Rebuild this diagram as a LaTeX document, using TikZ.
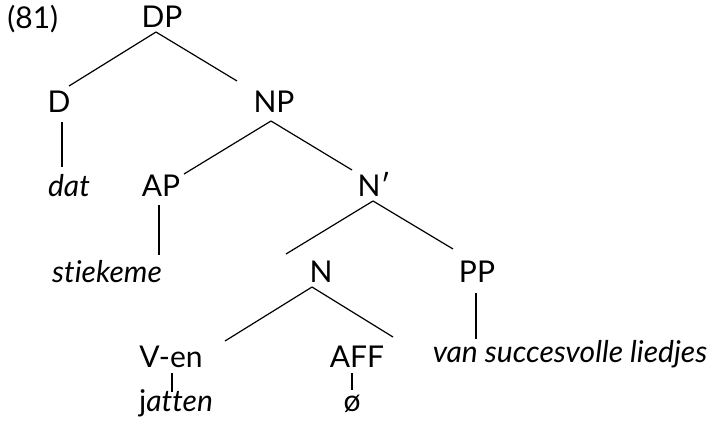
\documentclass[tikz,border=0pt]{standalone}
\usepackage{fontspec}
\setmainfont[Ligatures=NoCommon]{Lato}
\usepackage{tikz}

\begin{document}
\begin{tikzpicture}[x=0.5pt, y=-0.5pt, every node/.style={anchor=base, inner sep=0pt, font=\fontsize{15}{18}\selectfont}]

    \useasboundingbox (0, 0) rectangle (711, 423);

    % labels
    \node[anchor=base west] (ex) at (7, 28) {(81)};
    \node (dp) at (162, 27) {DP};
    \node (d) at (59, 112) {D};
    \node (np) at (274, 112) {NP};
    \node (dat) at (69, 196) {\itshape dat};
    \node (ap) at (161, 196) {AP};
    \node (nbar) at (374, 196) {N′};
    \node (stiekeme) at (107, 282) {\itshape stiekeme};
    \node (n) at (321, 282) {N};
    \node (pp) at (477, 282) {PP};
    \node (ven) at (171, 367) {V-en};
    \node (aff) at (357, 367) {AFF};
    \node (pobj) at (570, 362) {\itshape van succesvolle liedjes};
    \node (jatten) at (176, 411) {j\itshape atten};
    \node (null) at (352, 411) {ø};

    % branch ends
    \coordinate (dp-b) at (156, 32);
    \coordinate (d-t) at (69, 86);
    \coordinate (np-t) at (237, 81);
    \coordinate (d-b) at (62, 122);
    \coordinate (dat-t) at (62, 167);
    \coordinate (np-b) at (271, 121);
    \coordinate (ap-t) at (184, 174);
    \coordinate (nbar-t) at (352, 170);
    \coordinate (ap-b) at (159, 205);
    \coordinate (stiekeme-t) at (159, 255);
    \coordinate (nbar-b) at (373, 201);
    \coordinate (n-t) at (286, 254);
    \coordinate (pp-t) at (453, 249);
    \coordinate (n-b) at (312, 287);
    \coordinate (ven-t) at (225, 341);
    \coordinate (aff-t) at (393, 337);
    \coordinate (pp-b) at (476, 293);
    \coordinate (pobj-t) at (476, 339);
    \coordinate (ven-b) at (172, 373);
    \coordinate (jatten-t) at (172, 392);
    \coordinate (aff-b) at (352, 373);
    \coordinate (null-t) at (352, 390);

    % branches
    \draw[line width=0.6pt] (dp-b) -- (d-t);
    \draw[line width=0.6pt] (dp-b) -- (np-t);
    \draw[line width=0.6pt] (d-b) -- (dat-t);
    \draw[line width=0.6pt] (np-b) -- (ap-t);
    \draw[line width=0.6pt] (np-b) -- (nbar-t);
    \draw[line width=0.6pt] (ap-b) -- (stiekeme-t);
    \draw[line width=0.6pt] (nbar-b) -- (n-t);
    \draw[line width=0.6pt] (nbar-b) -- (pp-t);
    \draw[line width=0.6pt] (n-b) -- (ven-t);
    \draw[line width=0.6pt] (n-b) -- (aff-t);
    \draw[line width=0.6pt] (pp-b) -- (pobj-t);
    \draw[line width=0.6pt] (ven-b) -- (jatten-t);
    \draw[line width=0.6pt] (aff-b) -- (null-t);

\end{tikzpicture}
\end{document}
